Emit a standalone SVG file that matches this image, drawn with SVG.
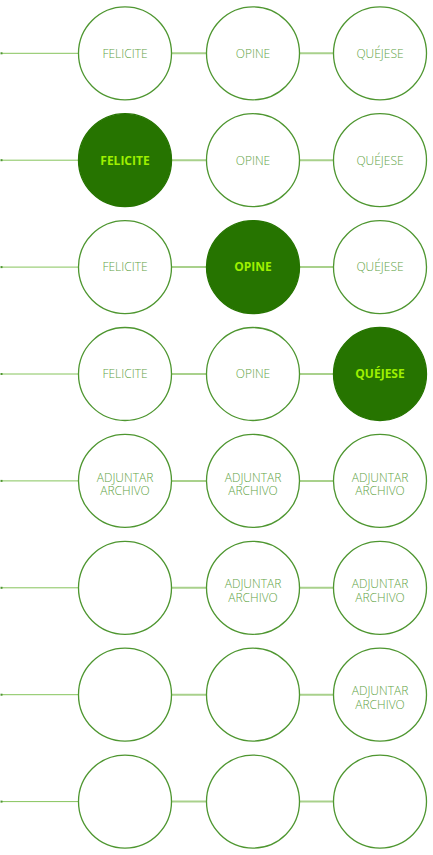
<svg xmlns="http://www.w3.org/2000/svg" width="433" height="855" viewBox="0 0 433 855">
  <style>
    .ring { fill: #ffffff; stroke: #4e9630; stroke-width: 1.3; }
    .ring.on { fill: #267400; stroke: #267400; }
    .lead { stroke: #86c45c; stroke-width: 1; fill: none; }
    .link { stroke: #a9d18c; stroke-width: 2; fill: none; }
    .dot { fill: #4e9630; }
    .lbl { font-family: "Open Sans", "Liberation Sans", sans-serif; font-size: 12px; font-weight: 300; fill: #62a446; text-anchor: middle; }
    .lbl.on { font-weight: 700; fill: #9ef000; }
  </style>

  <!-- connectors: lead-in line plus links between the three circles of each row -->
  <g id="connectors">
    <g transform="translate(0,53.3)">
      <line class="lead" x1="1" y1="0" x2="78.5" y2="0"/><rect class="dot" x="0.5" y="-1" width="2" height="2"/>
      <line class="link" x1="171.5" y1="0" x2="206.7" y2="0"/><line class="link" x1="299.3" y1="0" x2="333.5" y2="0"/>
    </g>
    <g transform="translate(0,160.2)">
      <line class="lead" x1="1" y1="0" x2="78.5" y2="0"/><rect class="dot" x="0.5" y="-1" width="2" height="2"/>
      <line class="link" x1="171.5" y1="0" x2="206.7" y2="0"/><line class="link" x1="299.3" y1="0" x2="333.5" y2="0"/>
    </g>
    <g transform="translate(0,267.1)">
      <line class="lead" x1="1" y1="0" x2="78.5" y2="0"/><rect class="dot" x="0.5" y="-1" width="2" height="2"/>
      <line class="link" x1="171.5" y1="0" x2="206.7" y2="0"/><line class="link" x1="299.3" y1="0" x2="333.5" y2="0"/>
    </g>
    <g transform="translate(0,374)">
      <line class="lead" x1="1" y1="0" x2="78.5" y2="0"/><rect class="dot" x="0.5" y="-1" width="2" height="2"/>
      <line class="link" x1="171.5" y1="0" x2="206.7" y2="0"/><line class="link" x1="299.3" y1="0" x2="333.5" y2="0"/>
    </g>
    <g transform="translate(0,480.9)">
      <line class="lead" x1="1" y1="0" x2="78.5" y2="0"/><rect class="dot" x="0.5" y="-1" width="2" height="2"/>
      <line class="link" x1="171.5" y1="0" x2="206.7" y2="0"/><line class="link" x1="299.3" y1="0" x2="333.5" y2="0"/>
    </g>
    <g transform="translate(0,587.8)">
      <line class="lead" x1="1" y1="0" x2="78.5" y2="0"/><rect class="dot" x="0.5" y="-1" width="2" height="2"/>
      <line class="link" x1="171.5" y1="0" x2="206.7" y2="0"/><line class="link" x1="299.3" y1="0" x2="333.5" y2="0"/>
    </g>
    <g transform="translate(0,694.7)">
      <line class="lead" x1="1" y1="0" x2="78.5" y2="0"/><rect class="dot" x="0.5" y="-1" width="2" height="2"/>
      <line class="link" x1="171.5" y1="0" x2="206.7" y2="0"/><line class="link" x1="299.3" y1="0" x2="333.5" y2="0"/>
    </g>
    <g transform="translate(0,801.6)">
      <line class="lead" x1="1" y1="0" x2="78.5" y2="0"/><rect class="dot" x="0.5" y="-1" width="2" height="2"/>
      <line class="link" x1="171.5" y1="0" x2="206.7" y2="0"/><line class="link" x1="299.3" y1="0" x2="333.5" y2="0"/>
    </g>
  </g>

  <!-- row 1 -->
  <g id="r1-felicite"><circle class="ring" cx="125" cy="53.3" r="46.5"/><text class="lbl" x="125" y="57.6">FELICITE</text></g>
  <g id="r1-opine"><circle class="ring" cx="253" cy="53.3" r="46.5"/><text class="lbl" x="253" y="57.6">OPINE</text></g>
  <g id="r1-quejese"><circle class="ring" cx="380" cy="53.3" r="46.5"/><text class="lbl" x="380" y="57.6">QUÉJESE</text></g>

  <!-- row 2 -->
  <g id="r2-felicite"><circle class="ring on" cx="125" cy="160.2" r="46.5"/><text class="lbl on" x="125" y="164.5">FELICITE</text></g>
  <g id="r2-opine"><circle class="ring" cx="253" cy="160.2" r="46.5"/><text class="lbl" x="253" y="164.5">OPINE</text></g>
  <g id="r2-quejese"><circle class="ring" cx="380" cy="160.2" r="46.5"/><text class="lbl" x="380" y="164.5">QUÉJESE</text></g>

  <!-- row 3 -->
  <g id="r3-felicite"><circle class="ring" cx="125" cy="267.1" r="46.5"/><text class="lbl" x="125" y="271.4">FELICITE</text></g>
  <g id="r3-opine"><circle class="ring on" cx="253" cy="267.1" r="46.5"/><text class="lbl on" x="253" y="271.4">OPINE</text></g>
  <g id="r3-quejese"><circle class="ring" cx="380" cy="267.1" r="46.5"/><text class="lbl" x="380" y="271.4">QUÉJESE</text></g>

  <!-- row 4 -->
  <g id="r4-felicite"><circle class="ring" cx="125" cy="374" r="46.5"/><text class="lbl" x="125" y="378.3">FELICITE</text></g>
  <g id="r4-opine"><circle class="ring" cx="253" cy="374" r="46.5"/><text class="lbl" x="253" y="378.3">OPINE</text></g>
  <g id="r4-quejese"><circle class="ring on" cx="380" cy="374" r="46.5"/><text class="lbl on" x="380" y="378.3">QUÉJESE</text></g>

  <!-- row 5: two-line labels -->
  <g id="r5-a"><circle class="ring" cx="125" cy="480.9" r="46.5"/><text class="lbl" x="125" y="481.5">ADJUNTAR<tspan x="125" dy="13.8">ARCHIVO</tspan></text></g>
  <g id="r5-b"><circle class="ring" cx="253" cy="480.9" r="46.5"/><text class="lbl" x="253" y="481.5">ADJUNTAR<tspan x="253" dy="13.8">ARCHIVO</tspan></text></g>
  <g id="r5-c"><circle class="ring" cx="380" cy="480.9" r="46.5"/><text class="lbl" x="380" y="481.5">ADJUNTAR<tspan x="380" dy="13.8">ARCHIVO</tspan></text></g>

  <!-- row 6 -->
  <g id="r6-a"><circle class="ring" cx="125" cy="587.8" r="46.5"/></g>
  <g id="r6-b"><circle class="ring" cx="253" cy="587.8" r="46.5"/><text class="lbl" x="253" y="588.4">ADJUNTAR<tspan x="253" dy="13.8">ARCHIVO</tspan></text></g>
  <g id="r6-c"><circle class="ring" cx="380" cy="587.8" r="46.5"/><text class="lbl" x="380" y="588.4">ADJUNTAR<tspan x="380" dy="13.8">ARCHIVO</tspan></text></g>

  <!-- row 7 -->
  <g id="r7-a"><circle class="ring" cx="125" cy="694.7" r="46.5"/></g>
  <g id="r7-b"><circle class="ring" cx="253" cy="694.7" r="46.5"/></g>
  <g id="r7-c"><circle class="ring" cx="380" cy="694.7" r="46.5"/><text class="lbl" x="380" y="695.3">ADJUNTAR<tspan x="380" dy="13.8">ARCHIVO</tspan></text></g>

  <!-- row 8 -->
  <g id="r8-a"><circle class="ring" cx="125" cy="801.6" r="46.5"/></g>
  <g id="r8-b"><circle class="ring" cx="253" cy="801.6" r="46.5"/></g>
  <g id="r8-c"><circle class="ring" cx="380" cy="801.6" r="46.5"/></g>
</svg>
